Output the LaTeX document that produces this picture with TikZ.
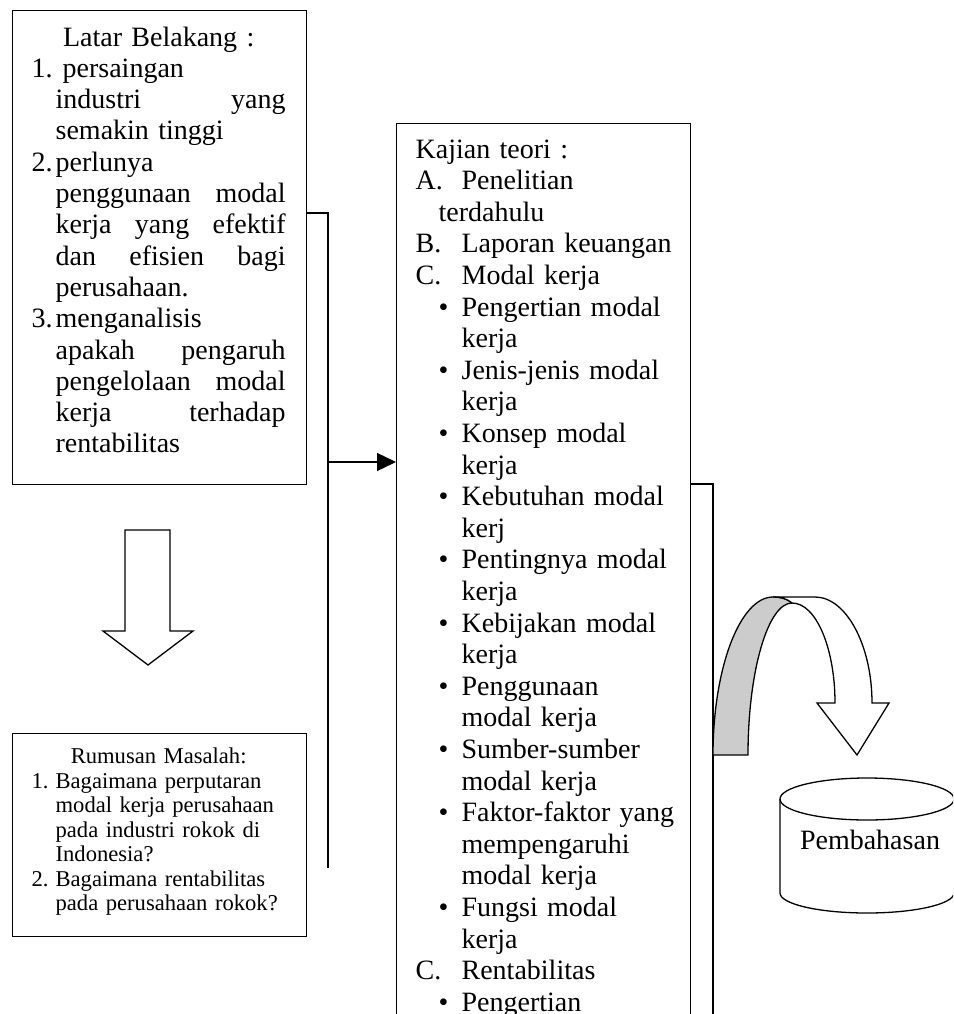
\documentclass[tikz,border=0pt]{standalone}
\usepackage{fontspec}
\setmainfont{Liberation Serif}
\usetikzlibrary{positioning,arrows.meta}

\newcommand{\lbl}[1]{\makebox[46pt][l]{#1}}
\newcommand{\bul}{\hspace*{23pt}\makebox[23pt][l]{\textbullet}}
\newcommand{\cont}{\hspace*{46pt}}
\newcommand{\num}[1]{\makebox[24pt][l]{#1}}
\newcommand{\hang}{\hspace*{24pt}}
\newcommand{\just}[1]{\makebox[230pt][l]{#1}}

\begin{document}
\begin{tikzpicture}[
    x=1pt, y=1pt,
    line width=1.3pt,
    >={Triangle[length=19pt,width=18pt]}
]

\tikzstyle{box}=[
    draw,
    rectangle,
    anchor=north west,
    inner sep=0pt
]
\tikzstyle{txt}=[
    anchor=north west,
    inner sep=0pt,
    align=left,
    font=\fontsize{28}{31.3}\selectfont
]

\useasboundingbox (0,0) rectangle (953,-1014);
\clip (0,0) rectangle (953,-1014);

% boxes
\node[box, minimum width=294, minimum height=474] (latar) at (12,-10) {};
\node[box, minimum width=294, minimum height=203] (rumusan) at (12,-733) {};
\node[box, minimum width=294, minimum height=940] (kajian) at (396,-123) {};

% texts
\node[txt, text width=254pt] (latarText) at (31,-26) {%
\makebox[254pt][c]{Latar Belakang :}\\
\makebox[31pt][l]{1.}persaingan\\
\hang\just{industri\hfill yang}\\
\hang semakin tinggi\\
\num{2.}perlunya\\
\hang\just{penggunaan\hfill modal}\\
\hang\just{kerja\hfill yang\hfill efektif}\\
\hang\just{dan\hfill efisien\hfill bagi}\\
\hang perusahaan.\\
\num{3.}menganalisis\\
\hang\just{apakah\hfill pengaruh}\\
\hang\just{pengelolaan\hfill modal}\\
\hang\just{kerja\hfill terhadap}\\
\hang rentabilitas};

\node[txt, text width=254pt, font=\fontsize{22.6}{24.5}\selectfont] (rumusanText) at (31,-747.6) {%
\makebox[254pt][c]{Rumusan Masalah:}\\
\num{1.}Bagaimana perputaran\\
\hang modal kerja perusahaan\\
\hang pada industri rokok di\\
\hang Indonesia?\\
\num{2.}Bagaimana rentabilitas\\
\hang pada perusahaan rokok?};

\node[txt, text width=270pt, font=\fontsize{28}{31.6}\selectfont] (kajianText) at (415,-139) {%
Kajian teori :\\
\lbl{A.}Penelitian\\
\hspace*{23pt}terdahulu\\
\lbl{B.}Laporan keuangan\\
\lbl{C.}Modal kerja\\
\bul Pengertian modal\\
\cont kerja\\
\bul Jenis-jenis modal\\
\cont kerja\\
\bul Konsep modal\\
\cont kerja\\
\bul Kebutuhan modal\\
\cont kerj\\
\bul Pentingnya modal\\
\cont kerja\\
\bul Kebijakan modal\\
\cont kerja\\
\bul Penggunaan\\
\cont modal kerja\\
\bul Sumber-sumber\\
\cont modal kerja\\
\bul Faktor-faktor yang\\
\cont mempengaruhi\\
\cont modal kerja\\
\bul Fungsi modal\\
\cont kerja\\
\lbl{C.}Rentabilitas\\
\bul Pengertian};

\node[anchor=base, inner sep=0pt, font=\fontsize{28}{31}\selectfont] (pembahasan) at (870,-849) {Pembahasan};

% connectors
\coordinate (brkL) at (328,-213);
\coordinate (brkLend) at (328,-868);
\coordinate (join) at (328,-462);
\coordinate (brkR) at (713,-484);
\coordinate (brkRend) at (713,-1030);

\draw (brkL -| latar.east) -- (brkL) -- (brkLend);
\draw[->] (join) -- (join -| kajian.west);
\draw (brkR -| kajian.east) -- (brkR) -- (brkRend);

% block arrow down
\draw (125,-530) -- (170,-530) -- (170,-631) -- (193,-631) -- (148,-665)
    -- (103,-631) -- (125,-631) -- cycle;

% curved arrow
\draw[fill=gray!40] (713,-755) -- (748,-755)
    .. controls (748,-671) and (768,-603) .. (792,-603)
    .. controls (786,-598) and (780,-597) .. (773,-597)
    .. controls (740,-597) and (713,-668) .. (713,-755) -- cycle;
\draw[fill=white] (773,-597) -- (815,-597)
    .. controls (846,-597) and (872,-645) .. (872,-703)
    -- (889,-703) -- (857,-755) -- (817,-703) -- (835,-703)
    .. controls (835,-648) and (816,-603) .. (792,-603)
    .. controls (786,-598) and (780,-597) .. (773,-597) -- cycle;

% cylinder
\draw (867,-799) ellipse[x radius=87, y radius=21];
\draw (780,-799) -- (780,-893) arc[start angle=180, end angle=360, x radius=87, y radius=20] -- (954,-799);

\end{tikzpicture}
\end{document}
